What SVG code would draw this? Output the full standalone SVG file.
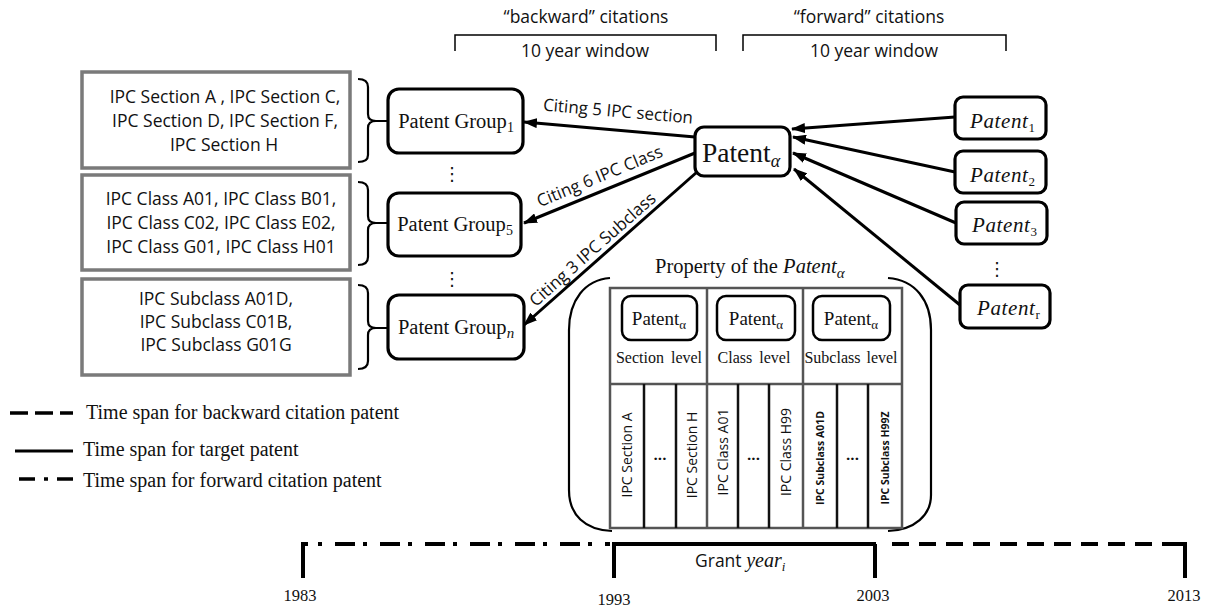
<svg xmlns="http://www.w3.org/2000/svg" width="1207" height="607" viewBox="0 0 1207 607">
<style>
.sans{font-family:"Open Sans","Liberation Sans",sans-serif;fill:#111}
.serif{font-family:"Liberation Serif","Times New Roman",serif;fill:#111}
.gbox{fill:#fff;stroke:#7a7a7a;stroke-width:3.5}
.node{fill:#fff;stroke:#000;stroke-width:3.2}
.brace{fill:none;stroke:#000;stroke-width:2.2}
.conn{fill:none;stroke:#000;stroke-width:3}
.thin{fill:none;stroke:#000;stroke-width:1.5}
.grid{fill:none;stroke:#555;stroke-width:2.5}
.div{stroke:#111;stroke-width:2.5}
.tl{fill:none;stroke:#000;stroke-width:4}
.dots{font-family:"DejaVu Sans",sans-serif;font-size:18px;fill:#111}
</style>
<defs>
<marker id="ah" markerUnits="userSpaceOnUse" markerWidth="14" markerHeight="10" refX="13" refY="5" orient="auto">
<path d="M0,0 L14,5 L0,10 z" fill="#000"/>
</marker>
</defs>
<rect width="1207" height="607" fill="#fff"/>

<!-- header brackets -->
<g id="header">
<text class="sans" x="586" y="23" font-size="17.5" text-anchor="middle">“backward” citations</text>
<path class="thin" d="M455,51 V35 H716 V51"/>
<text class="sans" x="585" y="57" font-size="17.5" text-anchor="middle">10 year window</text>
<text class="sans" x="869" y="23" font-size="17.5" text-anchor="middle">“forward” citations</text>
<path class="thin" d="M743,51 V35 H1006 V51"/>
<text class="sans" x="874" y="57" font-size="17.5" text-anchor="middle">10 year window</text>
</g>

<!-- left IPC boxes -->
<g id="box-sections">
<rect class="gbox" x="82" y="72" width="268" height="96"/>
<text class="sans" font-size="17.5" text-anchor="middle"><tspan x="225" y="103">IPC Section A , IPC Section C,</tspan><tspan x="225" y="127">IPC Section D, IPC Section F,</tspan><tspan x="224" y="151">IPC Section H</tspan></text>
<path class="brace" d="M358,79 Q368,79 368,87 V114 Q368,121 376,121 H390 M376,121 Q368,121 368,128 V155 Q368,162 358,162"/>
</g>
<g id="box-classes">
<rect class="gbox" x="82" y="175" width="268" height="95"/>
<text class="sans" font-size="17.5" text-anchor="middle"><tspan x="221" y="205">IPC Class A01, IPC Class B01,</tspan><tspan x="221" y="229">IPC Class C02, IPC Class E02,</tspan><tspan x="221" y="253">IPC Class G01, IPC Class H01</tspan></text>
<path class="brace" d="M358,182 Q368,182 368,190 V216 Q368,223 376,223 H390 M376,223 Q368,223 368,230 V257 Q368,265 358,265"/>
</g>
<g id="box-subclasses">
<rect class="gbox" x="82" y="279" width="268" height="96"/>
<text class="sans" font-size="17.5" text-anchor="middle"><tspan x="216" y="305">IPC Subclass A01D,</tspan><tspan x="216" y="328">IPC Subclass C01B,</tspan><tspan x="216" y="351">IPC Subclass G01G</tspan></text>
<path class="brace" d="M358,285 Q368,285 368,293 V321 Q368,328 376,328 H390 M376,328 Q368,328 368,335 V361 Q368,369 358,369"/>
</g>

<!-- patent groups -->
<g id="pg1">
<rect class="node" x="388" y="89" width="135" height="64" rx="11"/>
<text class="serif" x="456" y="128" font-size="20.5" text-anchor="middle">Patent Group<tspan font-size="14" dy="4">1</tspan></text>
</g>
<g id="pg5">
<rect class="node" x="388" y="193" width="133" height="63" rx="11"/>
<text class="serif" x="455" y="231" font-size="20.5" text-anchor="middle">Patent Group<tspan font-size="14" dy="4">5</tspan></text>
</g>
<g id="pgn">
<rect class="node" x="388" y="295" width="136" height="64" rx="11"/>
<text class="serif" x="456" y="334" font-size="20.5" text-anchor="middle">Patent Group<tspan font-size="15" font-style="italic" dy="4">n</tspan></text>
</g>
<g id="pg-dots">
<text class="dots" x="452" y="180" text-anchor="middle">⋮</text>
<text class="dots" x="452" y="285" text-anchor="middle">⋮</text>
</g>

<!-- target patent -->
<g id="patent-alpha">
<rect class="node" x="695" y="127" width="95" height="49" rx="9"/>
<text class="serif" x="741" y="162" font-size="27.5" text-anchor="middle">Patent<tspan font-size="18" font-style="italic" dy="5">α</tspan></text>
</g>

<!-- forward patents -->
<g id="p1">
<rect class="node" x="955" y="97" width="91" height="42" rx="8"/>
<text class="serif" x="970" y="128" font-size="21" font-style="italic" letter-spacing="0.6">Patent<tspan font-size="13" font-style="normal" dy="4">1</tspan></text>
</g>
<g id="p2">
<rect class="node" x="955" y="151" width="91" height="42" rx="8"/>
<text class="serif" x="970" y="182" font-size="21" font-style="italic" letter-spacing="0.6">Patent<tspan font-size="13" font-style="normal" dy="4">2</tspan></text>
</g>
<g id="p3">
<rect class="node" x="956" y="202" width="91" height="42" rx="8"/>
<text class="serif" x="972" y="232" font-size="21" font-style="italic" letter-spacing="0.6">Patent<tspan font-size="13" font-style="normal" dy="4">3</tspan></text>
</g>
<g id="pr">
<rect class="node" x="960" y="285" width="90" height="43" rx="8"/>
<text class="serif" x="977" y="315" font-size="21" font-style="italic" letter-spacing="0.6">Patent<tspan font-size="13" font-style="normal" dy="4">r</tspan></text>
</g>
<g id="p-dots">
<text class="dots" x="997" y="275" text-anchor="middle">⋮</text>
</g>

<!-- connectors -->
<g id="connectors">
<line class="conn" x1="695" y1="137" x2="524" y2="122" marker-end="url(#ah)"/>
<line class="conn" x1="695" y1="153" x2="524" y2="223" marker-end="url(#ah)"/>
<line class="conn" x1="697" y1="172" x2="524" y2="325" marker-end="url(#ah)"/>
<line class="conn" x1="955" y1="117" x2="792" y2="129" marker-end="url(#ah)"/>
<line class="conn" x1="955" y1="172" x2="793" y2="137" marker-end="url(#ah)"/>
<line class="conn" x1="956" y1="223" x2="793" y2="153" marker-end="url(#ah)"/>
<line class="conn" x1="960" y1="305" x2="794" y2="169" marker-end="url(#ah)"/>
<text class="sans" font-size="17" text-anchor="middle" transform="translate(618,112) rotate(5)" y="5">Citing 5 IPC section</text>
<text class="sans" font-size="17" text-anchor="middle" transform="translate(600,177) rotate(-22.5)" y="5">Citing 6 IPC Class</text>
<text class="sans" font-size="17" text-anchor="middle" transform="translate(593,250) rotate(-41.5)" y="5">Citing 3 IPC Subclass</text>
</g>

<!-- property table -->
<g id="property">
<text class="serif" x="655" y="273" font-size="20.5">Property of the <tspan font-style="italic">Patent</tspan><tspan font-style="italic" font-size="15" dy="5">α</tspan></text>
<path class="brace" d="M610,278 C585,280 569,300 569,330 V490 C569,515 585,530 612,531"/>
<path class="brace" d="M888,278 C915,280 931,300 931,330 V495 C931,515 915,530 888,531"/>
<rect class="grid" x="610" y="288" width="292" height="240"/>
<line class="grid" x1="707" y1="288" x2="707" y2="528"/>
<line class="grid" x1="803" y1="288" x2="803" y2="528"/>
<line class="grid" x1="610" y1="384" x2="902" y2="384"/>
<g class="div">
<line x1="644" y1="384" x2="644" y2="528"/>
<line x1="676" y1="384" x2="676" y2="528"/>
<line x1="738" y1="384" x2="738" y2="528"/>
<line x1="769" y1="384" x2="769" y2="528"/>
<line x1="837" y1="384" x2="837" y2="528"/>
<line x1="868" y1="384" x2="868" y2="528"/>
</g>
<rect class="node" style="stroke-width:2.5" x="622" y="296" width="75" height="44" rx="9"/>
<rect class="node" style="stroke-width:2.5" x="717" y="296" width="78" height="44" rx="9"/>
<rect class="node" style="stroke-width:2.5" x="813" y="296" width="77" height="44" rx="9"/>
<text class="serif" x="659" y="325" font-size="19" text-anchor="middle">Patent<tspan font-size="13" dy="4">α</tspan></text>
<text class="serif" x="756" y="325" font-size="19" text-anchor="middle">Patent<tspan font-size="13" dy="4">α</tspan></text>
<text class="serif" x="851" y="325" font-size="19" text-anchor="middle">Patent<tspan font-size="13" dy="4">α</tspan></text>
<text class="serif" x="659" y="363" font-size="16" text-anchor="middle" word-spacing="3">Section level</text>
<text class="serif" x="754" y="363" font-size="16" text-anchor="middle" word-spacing="3">Class level</text>
<text class="serif" x="851" y="363" font-size="16" text-anchor="middle" word-spacing="2">Subclass level</text>
<text class="sans" font-size="14" text-anchor="middle" transform="translate(627,455) rotate(-90)" y="5">IPC Section A</text>
<text class="sans" font-size="14" text-anchor="middle" transform="translate(691.5,455) rotate(-90)" y="5">IPC Section H</text>
<text class="sans" font-size="14" text-anchor="middle" transform="translate(722.5,452) rotate(-90)" y="5">IPC Class A01</text>
<text class="sans" font-size="14" text-anchor="middle" transform="translate(786,452) rotate(-90)" y="5">IPC Class H99</text>
<text class="sans" font-size="10.5" font-weight="bold" text-anchor="middle" transform="translate(820,458) rotate(-90)" y="4">IPC Subclass A01D</text>
<text class="sans" font-size="10.5" font-weight="bold" text-anchor="middle" transform="translate(885,458) rotate(-90)" y="4">IPC Subclass H99Z</text>
<text class="sans" x="660" y="460" font-size="15" font-weight="bold" text-anchor="middle">...</text>
<text class="sans" x="753.5" y="460" font-size="15" font-weight="bold" text-anchor="middle">...</text>
<text class="sans" x="852.5" y="460" font-size="15" font-weight="bold" text-anchor="middle">...</text>
</g>

<!-- legend -->
<g id="legend">
<line class="tl" style="stroke-width:3.5" x1="10" y1="413" x2="73" y2="413" stroke-dasharray="18 7"/>
<text class="serif" x="86" y="419" font-size="20">Time span for backward citation patent</text>
<line class="tl" style="stroke-width:3" x1="15" y1="451" x2="73" y2="451"/>
<text class="serif" x="83" y="456" font-size="20">Time span for target patent</text>
<line class="tl" style="stroke-width:3.5" x1="19" y1="479" x2="73" y2="479" stroke-dasharray="16 9 4 9"/>
<text class="serif" x="83" y="487" font-size="20">Time span for forward citation patent</text>
</g>

<!-- timeline -->
<g id="timeline">
<path class="tl" d="M303,578 V544 H308"/>
<line class="tl" x1="318" y1="544" x2="610" y2="544" stroke-dasharray="4 13 20 8"/>
<path class="tl" d="M612,544 H876 M614,544 V578 M875,544 V578"/>
<line class="tl" x1="892" y1="544" x2="1180" y2="544" stroke-dasharray="17 10"/>
<path class="tl" d="M1175,544 H1185 V578"/>
<text class="sans" x="695" y="567" font-size="17.5">Grant <tspan class="serif" font-style="italic" font-size="20">year</tspan><tspan class="serif" font-style="italic" font-size="13" dy="4">i</tspan></text>
<text class="serif" x="300" y="601" font-size="16.5" text-anchor="middle">1983</text>
<text class="serif" x="614" y="605" font-size="16.5" text-anchor="middle">1993</text>
<text class="serif" x="873" y="601" font-size="16.5" text-anchor="middle">2003</text>
<text class="serif" x="1184" y="601" font-size="16.5" text-anchor="middle">2013</text>
</g>
</svg>
